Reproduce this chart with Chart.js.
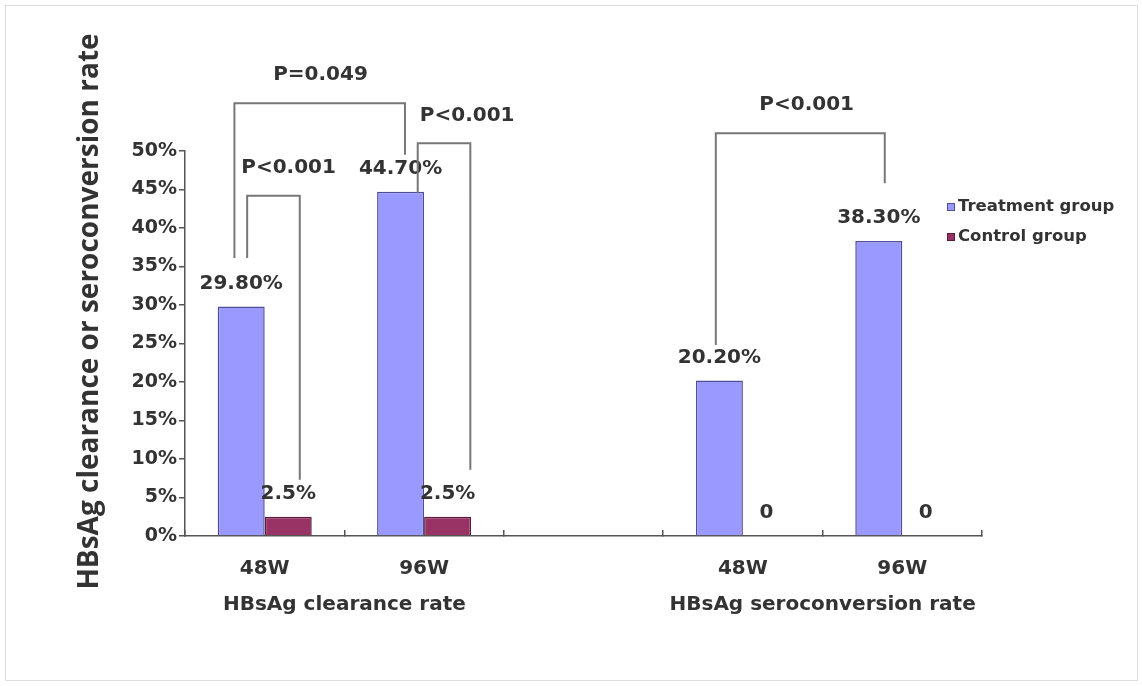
<!DOCTYPE html>
<html>
<head>
<meta charset="utf-8">
<script src="https://cdn.jsdelivr.net/npm/chart.js@4.4.0/dist/chart.umd.min.js"></script>
<style>
  html, body { margin: 0; padding: 0; background: #ffffff; }
  #wrap { position: relative; width: 1142px; height: 686px; }
  #wrap canvas { position: absolute; left: 0; top: 0; }
  #frame { position: absolute; left: 5px; top: 5px; width: 1131px; height: 674px;
           border: 1px solid #dedede; pointer-events: none; }
</style>
</head>
<body>
<div id="wrap">
  <canvas id="chart" width="1142" height="686"></canvas>
  <div id="frame"></div>
</div>
<script>
// ---- data ----
const categories   = ['48W', '96W', '', '48W', '96W'];
const seriesNames  = ['Treatment group', 'Control group'];
const treatment    = [29.8, 44.7, null, 20.2, 38.3];
const control      = [2.5, 2.5, null, 0, 0];
const valueDecimals = [2, 1];
const groupNames   = ['HBsAg clearance rate', 'HBsAg seroconversion rate'];
const groupMembers = [[0, 1], [3, 4]];
const yMin = 0, yMax = 50, yStep = 5;
const yAxisTitle   = 'HBsAg clearance or seroconversion rate';

// significance brackets (x in category units, levels in %)
const comparisons = [
  { text: 'P=0.049', from: -0.19, to: 0.88, top: 56.2, fromEnd: 36.1, toEnd: 49.5, labelAt: 0.35 },
  { text: 'P<0.001', from: -0.11, to: 0.22, top: 44.2, fromEnd: 36.1, toEnd: 7.3,  labelAt: 0.15 },
  { text: 'P<0.001', from: 0.96,  to: 1.29, top: 51.0, fromEnd: 44.5, toEnd: 8.6,  labelAt: 1.27 },
  { text: 'P<0.001', from: 2.83,  to: 3.89, top: 52.3, fromEnd: 24.8, toEnd: 45.8, labelAt: 3.40 }
];

// ---- styles ----
const TEXT = '#333333';
const LABEL_FONT = 'bold 20px "DejaVu Sans", sans-serif';
const colors = {
  fill:   ['#9999ff', '#993366'],
  border: ['#4f4f96', '#5a1e3c']
};

const fmt = (v, di) => v === 0 ? '0' : v.toFixed(valueDecimals[di]) + '%';
const groupCenters = groupMembers.map(m => m.reduce((a, b) => a + b, 0) / m.length);

// value labels, brackets, legend and the rotated y title
const overlay = {
  id: 'overlay',
  afterDatasetsDraw(chart) {
    const { ctx, chartArea, scales: { x, y } } = chart;
    ctx.save();
    ctx.fillStyle = TEXT;
    ctx.font = LABEL_FONT;
    ctx.textAlign = 'center';
    ctx.textBaseline = 'middle';
    chart.data.datasets.forEach((ds, di) => {
      chart.getDatasetMeta(di).data.forEach((el, i) => {
        const v = ds.data[i];
        if (v === null || v === undefined) return;
        ctx.fillText(fmt(v, di), el.x, el.y - 23);
      });
    });

    ctx.strokeStyle = '#777777';
    ctx.lineWidth = 2;
    comparisons.forEach(c => {
      const x1 = x.getPixelForValue(c.from), x2 = x.getPixelForValue(c.to);
      const yt = y.getPixelForValue(c.top);
      ctx.beginPath();
      ctx.moveTo(x1, y.getPixelForValue(c.fromEnd));
      ctx.lineTo(x1, yt);
      ctx.lineTo(x2, yt);
      ctx.lineTo(x2, y.getPixelForValue(c.toEnd));
      ctx.stroke();
      ctx.fillText(c.text, x.getPixelForValue(c.labelAt), yt - 28);
    });

    // legend
    ctx.font = 'bold 16.5px "DejaVu Sans", sans-serif';
    ctx.textAlign = 'left';
    const lx = chartArea.right - 35, ly = chartArea.top + 56;
    seriesNames.forEach((name, i) => {
      const yy = ly + i * 30;
      ctx.fillStyle = colors.fill[i];
      ctx.fillRect(lx, yy - 4, 8, 8);
      ctx.strokeStyle = colors.border[i];
      ctx.lineWidth = 1;
      ctx.strokeRect(lx + 0.5, yy - 3.5, 7, 7);
      ctx.fillStyle = TEXT;
      ctx.fillText(name, lx + 11, yy);
    });

    // y axis title
    ctx.font = 'bold 28px "Open Sans", sans-serif';
    ctx.textAlign = 'center';
    ctx.translate(chartArea.left - 95, (chartArea.top + chartArea.bottom) / 2 - 32);
    ctx.rotate(-Math.PI / 2);
    ctx.fillText(yAxisTitle, 0, 0);
    ctx.restore();
  }
};

new Chart(document.getElementById('chart'), {
  type: 'bar',
  data: {
    labels: categories,
    datasets: [
      { label: seriesNames[0], data: treatment, xAxisID: 'x',
        backgroundColor: colors.fill[0], borderColor: colors.border[0], borderWidth: 1.5 },
      { label: seriesNames[1], data: control, xAxisID: 'x',
        backgroundColor: colors.fill[1], borderColor: colors.border[1], borderWidth: 1.5 }
    ]
  },
  options: {
    responsive: false,
    animation: false,
    devicePixelRatio: 1,
    datasets: { bar: { barPercentage: 1, categoryPercentage: 0.59 } },
    layout: { padding: { left: 0, right: 160, top: 151, bottom: 68 } },
    plugins: { legend: { display: false }, tooltip: { enabled: false } },
    scales: {
      x: {
        type: 'category',
        position: 'bottom',
        weight: 0,
        offset: true,
        grid: { offset: true, drawOnChartArea: false, drawTicks: true, tickLength: -6,
                color: '#555555', lineWidth: 1.5 },
        border: { display: true, color: '#555555', width: 1.5 },
        ticks: { color: TEXT, font: { family: 'DejaVu Sans', size: 20, weight: 'bold' },
                 padding: 27, maxRotation: 0, autoSkip: false },
        afterFit(s) { s.height = 40; }
      },
      xg: {
        type: 'linear',
        position: 'bottom',
        weight: 1,
        offset: false,
        min: -0.5,
        max: categories.length - 0.5,
        grid: { display: false, drawTicks: false, offset: false },
        border: { display: false },
        afterBuildTicks(s) { s.ticks = groupCenters.map(v => ({ value: v })); },
        ticks: {
          color: TEXT, font: { family: 'DejaVu Sans', size: 20, weight: 'bold' },
          padding: 17, maxRotation: 0, autoSkip: false,
          callback(v) { const i = groupCenters.indexOf(v); return i >= 0 ? groupNames[i] : ''; }
        },
        afterFit(s) { s.height = 42; }
      },
      y: {
        min: yMin, max: yMax,
        grid: { drawOnChartArea: false, drawTicks: true, tickLength: 6,
                color: '#555555', lineWidth: 1.5 },
        border: { display: true, color: '#555555', width: 1.5 },
        ticks: { stepSize: yStep, color: TEXT, padding: 2,
                 font: { family: 'DejaVu Sans', size: 19, weight: 'bold' },
                 callback: v => v + '%' },
        afterFit(s) { s.width = 185; }
      }
    }
  },
  plugins: [overlay]
});
</script>
</body>
</html>
